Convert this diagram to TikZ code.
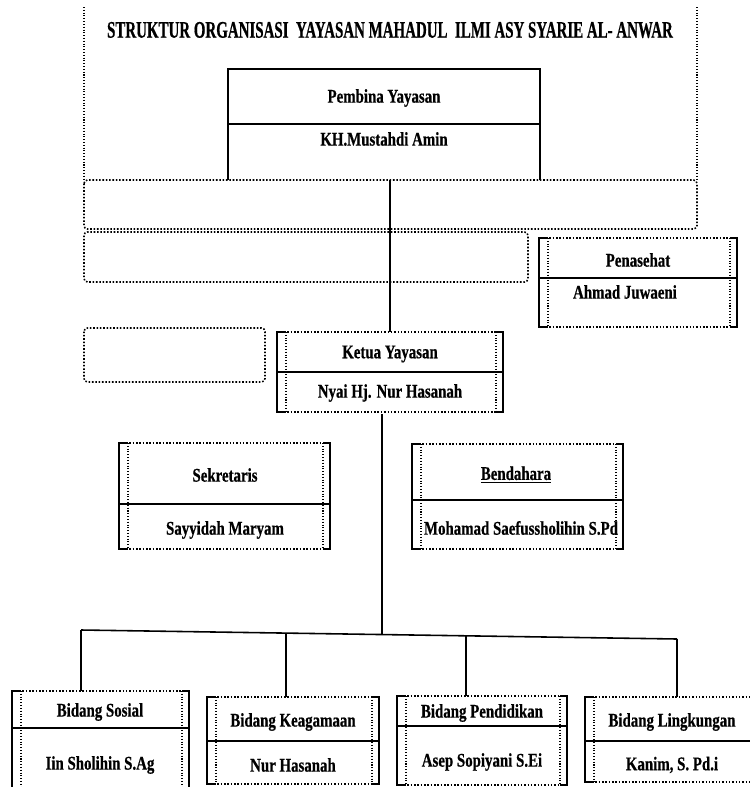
\documentclass[tikz,border=0pt]{standalone}
\usepackage{fontspec}
\newfontfamily\titlefont[FakeStretch=0.63,FakeBold=0.6]{Liberation Serif}
\newfontfamily\boxfont[FakeStretch=0.77,FakeBold=0.6]{Liberation Serif}
\usetikzlibrary{calc}

\begin{document}
\begin{tikzpicture}[x=0.2mm,y=-0.2mm,
    side/.style={line width=1.1pt},
    rim/.style={densely dotted,line width=0.9pt},
    inner/.style={densely dotted,line width=0.6pt},
    lbl/.style={font=\boxfont\bfseries\fontsize{11}{13}\selectfont},
    wire/.style={line width=0.9pt}]
    \useasboundingbox (0,0) rectangle (750,787);
    % outer frame and the empty bands
    \draw[inner] (84,7) -- (84,180);
    \draw[inner] (697,7) -- (697,180);
    \draw[rim,rounded corners=2] (84,180) rectangle (697,229);
    \draw[rim,rounded corners=2] (84,232) rectangle (528,282);
    \draw[rim,rounded corners=2] (84,328) rectangle (265,382);
    \node[font=\titlefont\bfseries\fontsize{13.5}{15}\selectfont] (judul) at (390,30) {STRUKTUR ORGANISASI\ \ YAYASAN MAHADUL\ \ ILMI ASY SYARIE AL- ANWAR};
    % pembina
    \draw[side] (228,180) -- (228,69) -- (540,69) -- (540,180);
    \draw[side] (228,124) -- (540,124);
    \node[lbl] (pembina) at (384,98) {Pembina Yayasan};
    \node[lbl] (pembina-nm) at (384,139) {KH.Mustahdi Amin};
    \coordinate (pembina-bot) at (390,180);
    % boxes with dotted rims
    \foreach \nm/\xa/\ya/\xb/\yb/\yd in {penasehat/539/238/737/327/278,
        ketua/277/332/503/412/372, sekretaris/119/443/330/549/504,
        bendahara/412/444/623/549/500, sosial/12/691/189/800/728,
        keagamaan/207/697/379/784/741, pendidikan/397/696/567/785/726,
        lingkungan/585/697/770/782/741}{
        \draw[side] (\xa+7,\ya) -- (\xa,\ya) -- (\xa,\yb) -- (\xa+7,\yb);
        \draw[side] (\xb-7,\ya) -- (\xb,\ya) -- (\xb,\yb) -- (\xb-7,\yb);
        \draw[side] (\xa,\yd) -- (\xb,\yd);
        \draw[rim] (\xa+7,\ya) -- (\xb-7,\ya);
        \draw[rim] (\xa+7,\yb) -- (\xb-7,\yb);
        \draw[inner] (\xa+9,\ya) -- (\xa+9,\yb);
        \draw[inner] (\xb-7,\ya) -- (\xb-7,\yb);
        \coordinate (\nm-top) at ({(\xa+\xb)/2},\ya);
    }
    \node[lbl] (penasehat) at (638,260) {Penasehat};
    \node[lbl] (penasehat-nm) at (625,292) {Ahmad Juwaeni};
    \node[lbl] (ketua) at (390,354) {Ketua Yayasan};
    \node[lbl] (ketua-nm) at (390,393) {Nyai Hj. Nur Hasanah};
    \node[lbl] (sekretaris) at (225,475) {Sekretaris};
    \node[lbl] (sekretaris-nm) at (225,530) {Sayyidah Maryam};
    \node[lbl] (bendahara) at (516,475) {\underline{Bendahara}};
    \node[lbl] (bendahara-nm) at (521,528) {Mohamad Saefussholihin S.Pd};
    \node[lbl] (sosial) at (100,712) {Bidang Sosial};
    \node[lbl] (sosial-nm) at (100,765) {Iin Sholihin S.Ag};
    \node[lbl] (keagamaan) at (293,722) {Bidang Keagamaan};
    \node[lbl] (keagamaan-nm) at (293,765) {Nur Hasanah};
    \node[lbl] (pendidikan) at (482,713) {Bidang Pendidikan};
    \node[lbl] (pendidikan-nm) at (482,762) {Asep Sopiyani S.Ei};
    \node[lbl] (lingkungan) at (672,722) {Bidang Lingkungan};
    \node[lbl] (lingkungan-nm) at (672,765) {Kanim, S. Pd.i};
    % connectors
    \coordinate (ketua-bot) at (382,414);
    \coordinate (bus-w) at (81,630);
    \coordinate (bus-e) at (677,639);
    \coordinate (bus-k) at ($(bus-w)!0.344!(bus-e)$);
    \coordinate (bus-m) at ($(bus-w)!0.505!(bus-e)$);
    \coordinate (bus-p) at ($(bus-w)!0.646!(bus-e)$);
    \draw[wire] (pembina-bot) -- (ketua-top);
    \draw[wire] (ketua-bot) -- (bus-m);
    \draw[wire] (bus-w) -- (bus-e);
    \draw[wire] (bus-w) -- (bus-w |- sosial-top);
    \draw[wire] (bus-k) -- (bus-k |- keagamaan-top);
    \draw[wire] (bus-p) -- (bus-p |- pendidikan-top);
    \draw[wire] (bus-e) -- (bus-e |- lingkungan-top);
\end{tikzpicture}
\end{document}
